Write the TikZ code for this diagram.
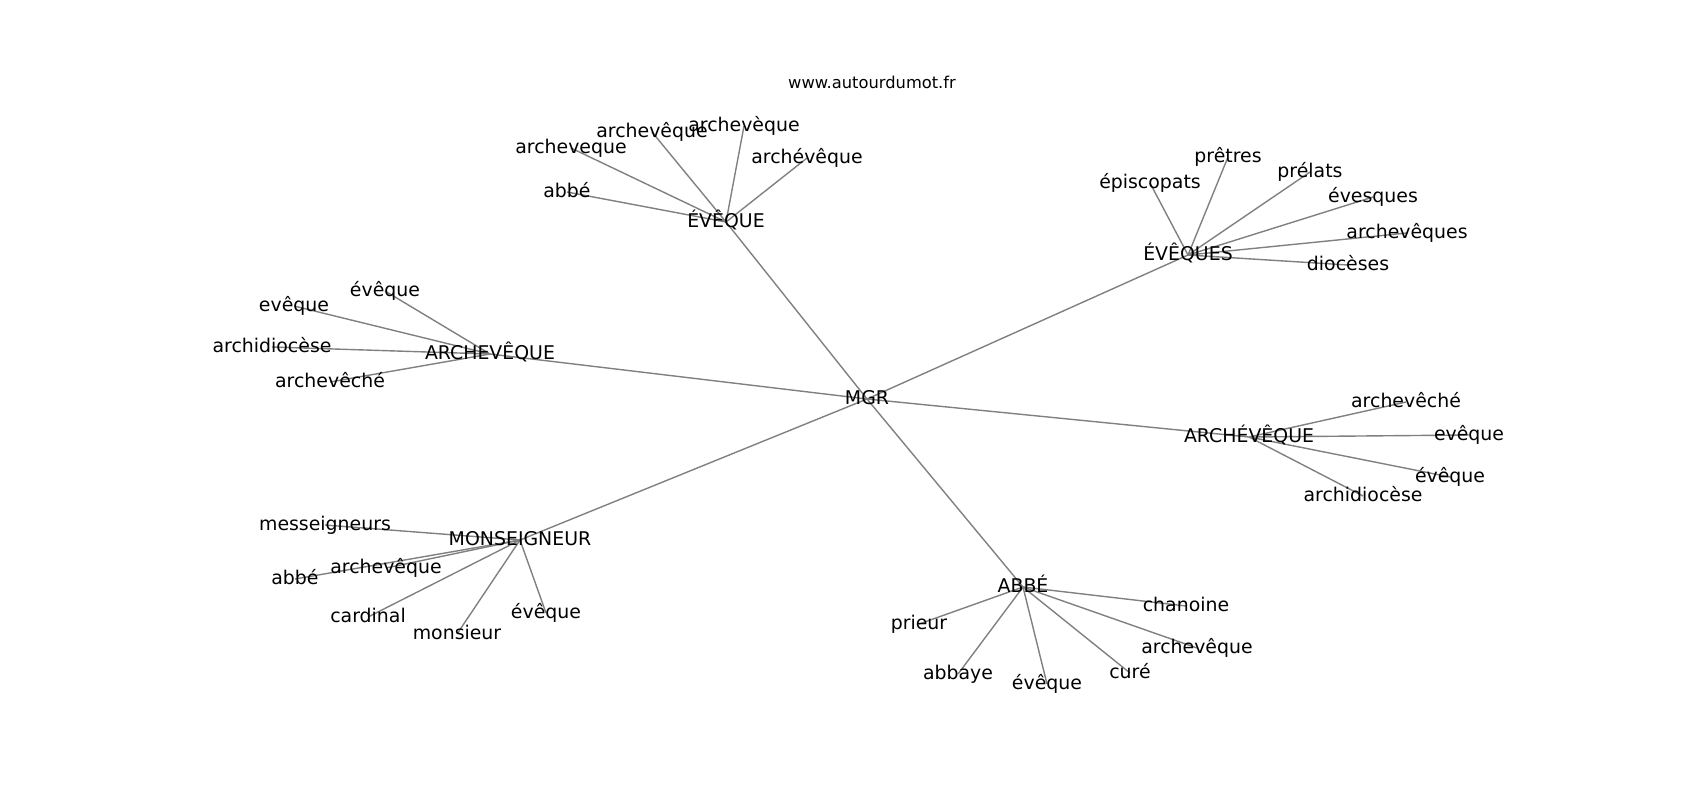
\documentclass[tikz,border=0pt]{standalone}
\usepackage{fontspec}
\setmainfont{DejaVu Sans}
\usetikzlibrary{backgrounds}

\begin{document}
\begin{tikzpicture}[x=0.5pt, y=-0.5pt, w/.style={inner sep=0pt, text height=0.76em, text depth=0.24em, font=\fontsize{9.45}{11}\selectfont}, lnk/.style={gray, line width=0.7pt}]
		\useasboundingbox (0,0) rectangle (1700,800);
		\node[w, font=\fontsize{8.15}{10}\selectfont] (title) at (872,83) {www.autourdumot.fr};

		\node[w] (MGR) at (867,399) {MGR};
		\node[w] (EVQ) at (726,222) {ÉVÊQUE};
		\node[w] (EVQS) at (1188,255) {ÉVÊQUES};
		\node[w] (ARCH) at (490,354) {ARCHEVÊQUE};
		\node[w] (ARCHE) at (1249,437) {ARCHÉVÊQUE};
		\node[w] (MONS) at (520,540) {MONSEIGNEUR};
		\node[w] (ABBE) at (1023,587) {ABBÉ};

		% ÉVÊQUE
		\node[w] (EVQ_abbe) at (567,192) {abbé};
		\node[w] (EVQ_a1) at (571,148) {archeveque};
		\node[w] (EVQ_a2) at (652,132) {archevêque};
		\node[w] (EVQ_a3) at (744,126) {archevèque};
		\node[w] (EVQ_a4) at (807,158) {archévêque};

		% ÉVÊQUES
		\node[w] (EVQS_epis) at (1150,183) {épiscopats};
		\node[w] (EVQS_pret) at (1228,157) {prêtres};
		\node[w] (EVQS_prel) at (1310,172) {prélats};
		\node[w] (EVQS_eves) at (1373,197) {évesques};
		\node[w] (EVQS_arch) at (1407,233) {archevêques};
		\node[w] (EVQS_dioc) at (1348,265) {diocèses};

		% ARCHEVÊQUE
		\node[w] (ARCH_ev1) at (385,291) {évêque};
		\node[w] (ARCH_ev2) at (294,306) {evêque};
		\node[w] (ARCH_dioc) at (272,347) {archidiocèse};
		\node[w] (ARCH_che) at (330,382) {archevêché};

		% ARCHÉVÊQUE
		\node[w] (ARCHE_che) at (1406,402) {archevêché};
		\node[w] (ARCHE_ev2) at (1469,435) {evêque};
		\node[w] (ARCHE_ev1) at (1450,477) {évêque};
		\node[w] (ARCHE_dioc) at (1363,496) {archidiocèse};

		% MONSEIGNEUR
		\node[w] (MONS_mess) at (325,525) {messeigneurs};
		\node[w] (MONS_arch) at (386,568) {archevêque};
		\node[w] (MONS_abbe) at (295,579) {abbé};
		\node[w] (MONS_card) at (368,617) {cardinal};
		\node[w] (MONS_mons) at (457,634) {monsieur};
		\node[w] (MONS_ev) at (546,613) {évêque};

		% ABBÉ
		\node[w] (ABBE_chan) at (1186,606) {chanoine};
		\node[w] (ABBE_prie) at (919,624) {prieur};
		\node[w] (ABBE_arch) at (1197,648) {archevêque};
		\node[w] (ABBE_abba) at (958,674) {abbaye};
		\node[w] (ABBE_ev) at (1047,684) {évêque};
		\node[w] (ABBE_cure) at (1130,673) {curé};

		\begin{pgfonlayer}{background}
		\path[lnk] (MGR.center) edge (EVQ.center);
		\path[lnk] (MGR.center) edge (EVQS.center);
		\path[lnk] (MGR.center) edge (ARCH.center);
		\path[lnk] (MGR.center) edge (ARCHE.center);
		\path[lnk] (MGR.center) edge (MONS.center);
		\path[lnk] (MGR.center) edge (ABBE.center);

		\path[lnk] (EVQ.center) edge (EVQ_abbe.center);
		\path[lnk] (EVQ.center) edge (EVQ_a1.center);
		\path[lnk] (EVQ.center) edge (EVQ_a2.center);
		\path[lnk] (EVQ.center) edge (EVQ_a3.center);
		\path[lnk] (EVQ.center) edge (EVQ_a4.center);

		\path[lnk] (EVQS.center) edge (EVQS_epis.center);
		\path[lnk] (EVQS.center) edge (EVQS_pret.center);
		\path[lnk] (EVQS.center) edge (EVQS_prel.center);
		\path[lnk] (EVQS.center) edge (EVQS_eves.center);
		\path[lnk] (EVQS.center) edge (EVQS_arch.center);
		\path[lnk] (EVQS.center) edge (EVQS_dioc.center);

		\path[lnk] (ARCH.center) edge (ARCH_ev1.center);
		\path[lnk] (ARCH.center) edge (ARCH_ev2.center);
		\path[lnk] (ARCH.center) edge (ARCH_dioc.center);
		\path[lnk] (ARCH.center) edge (ARCH_che.center);

		\path[lnk] (ARCHE.center) edge (ARCHE_che.center);
		\path[lnk] (ARCHE.center) edge (ARCHE_ev2.center);
		\path[lnk] (ARCHE.center) edge (ARCHE_ev1.center);
		\path[lnk] (ARCHE.center) edge (ARCHE_dioc.center);

		\path[lnk] (MONS.center) edge (MONS_mess.center);
		\path[lnk] (MONS.center) edge (MONS_arch.center);
		\path[lnk] (MONS.center) edge (MONS_abbe.center);
		\path[lnk] (MONS.center) edge (MONS_card.center);
		\path[lnk] (MONS.center) edge (MONS_mons.center);
		\path[lnk] (MONS.center) edge (MONS_ev.center);

		\path[lnk] (ABBE.center) edge (ABBE_chan.center);
		\path[lnk] (ABBE.center) edge (ABBE_prie.center);
		\path[lnk] (ABBE.center) edge (ABBE_arch.center);
		\path[lnk] (ABBE.center) edge (ABBE_abba.center);
		\path[lnk] (ABBE.center) edge (ABBE_ev.center);
		\path[lnk] (ABBE.center) edge (ABBE_cure.center);
		\end{pgfonlayer}
	\end{tikzpicture}
\end{document}
